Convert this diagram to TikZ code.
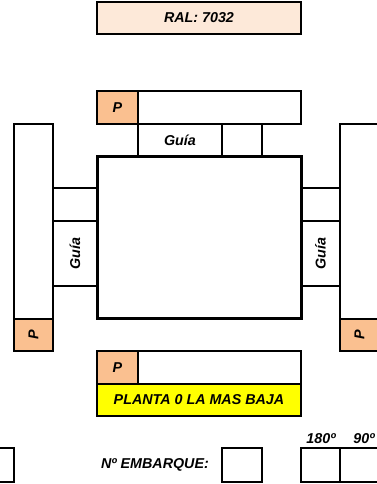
\documentclass[tikz,border=0pt]{standalone}
\usepackage{fontspec}
\setmainfont{Liberation Sans}
\definecolor{peach}{HTML}{FAC090}
\definecolor{ralfill}{HTML}{FDE9D9}
\definecolor{yel}{HTML}{FFFF00}
\tikzset{
  cell/.style={draw, line width=1.5pt, rectangle, inner sep=0pt, outer sep=0pt, anchor=north west,
    font=\fontsize{14.3}{16}\selectfont\bfseries\itshape},
  lbl/.style={inner sep=0pt, font=\fontsize{14.3}{16}\selectfont\bfseries\itshape},
  pcell/.style={cell, fill=peach},
}
\begin{document}
\begin{tikzpicture}[x=1pt,y=-1pt]
\useasboundingbox (0,0) rectangle (377,484);
\clip (0,0) rectangle (377,484);
% RAL
\node[cell, fill=ralfill, line width=2pt, minimum width=204pt, minimum height=32pt] (ral) at (97,2) {RAL: 7032};
% top row
\node[pcell, minimum width=41pt, minimum height=33pt] (ptop) at (97,91) {P};
\node[cell, minimum width=163pt, minimum height=33pt] (toprow) at (138,91) {};
\node[cell, minimum width=84pt, minimum height=32pt] (guiatop) at (138,124) {Guía};
\node[cell, minimum width=40pt, minimum height=32pt] (gtop2) at (222,124) {};
% left column
\node[cell, minimum width=39pt, minimum height=227pt] (lcol) at (14,124) {};
\node[pcell, minimum width=39pt, minimum height=32pt] (lp) at (14,319) {};
\node[lbl, rotate=90] (lpt) at (lp.center) {P};
\node[cell, minimum width=44pt, minimum height=33pt] (lg1) at (53,188) {};
\node[cell, minimum width=44pt, minimum height=65pt] (lg2) at (53,221) {};
\node[lbl, rotate=90] (lgt) at (lg2.center) {Guía};
% right column
\node[cell, minimum width=39pt, minimum height=227pt] (rcol) at (340,124) {};
\node[pcell, minimum width=39pt, minimum height=32pt] (rp) at (340,319) {};
\node[lbl, rotate=90] (rpt) at (rp.center) {P};
\node[cell, minimum width=39pt, minimum height=33pt] (rg1) at (301,188) {};
\node[cell, minimum width=39pt, minimum height=65pt] (rg2) at (301,221) {};
\node[lbl, rotate=90] (rgt) at (rg2.center) {Guía};
% main box
\node[cell, line width=3pt, minimum width=204pt, minimum height=162pt] (main) at (97,156) {};
% bottom rows
\node[pcell, minimum width=41pt, minimum height=33pt] (pbot) at (97,351) {P};
\node[cell, minimum width=163pt, minimum height=33pt] (botrow) at (138,351) {};
\node[cell, fill=yel, minimum width=204pt, minimum height=32pt] (planta) at (97,384) {PLANTA 0 LA MAS BAJA};
% bottom line
\node[cell, minimum width=39pt, minimum height=34pt] (bl) at (-25,448) {};
\node[lbl] (emb) at (155,465) {Nº EMBARQUE:};
\node[cell, minimum width=40pt, minimum height=34pt] (embox) at (222,448) {};
\node[cell, minimum width=39pt, minimum height=34pt] (b180) at (301,448) {};
\node[cell, minimum width=39pt, minimum height=34pt] (b90) at (340,448) {};
\node[lbl] (t180) at (321,439) {180º};
\node[lbl] (t90) at (364,439) {90º};
\end{tikzpicture}
\end{document}
